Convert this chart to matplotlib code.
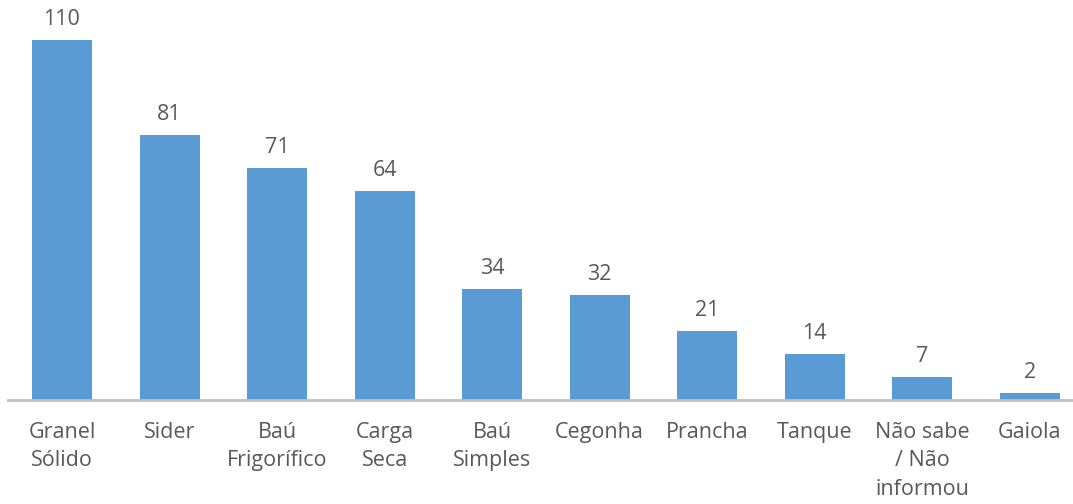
import matplotlib.pyplot as plt

categories = ["Granel\nSólido", "Sider", "Baú\nFrigorífico", "Carga\nSeca", "Baú\nSimples",
              "Cegonha", "Prancha", "Tanque", "Não sabe\n/ Não\ninformou", "Gaiola"]
values = [110, 81, 71, 64, 34, 32, 21, 14, 7, 2]

BAR_COLOR = "#5B9BD5"
TEXT_COLOR = "#595959"

plt.rcParams["font.family"] = ["Open Sans", "DejaVu Sans"]

fig = plt.figure(figsize=(10.73, 5.04), dpi=100)
ax = fig.add_axes([8.2 / 1073, 104 / 504, 1075.4 / 1073, 400 / 504])

x = range(len(values))
bars = ax.bar(x, values, width=0.558, color=BAR_COLOR)

for xi, v in zip(x, values):
    ax.annotate(str(v), (xi, v), xytext=(0, 7.3), textcoords="offset points",
                ha="center", va="bottom", fontsize=15.5, color=TEXT_COLOR)

ax.set_xlim(-0.5, len(values) - 0.5)
ax.set_ylim(0, 122.3)
ax.set_xticks(list(x))
ax.set_xticklabels(categories, fontsize=15.5, color=TEXT_COLOR, linespacing=1.45)
ax.tick_params(axis="x", length=0, pad=16)
ax.set_yticks([])
for side in ["top", "right", "left"]:
    ax.spines[side].set_visible(False)
ax.spines["bottom"].set_color("#BFBFBF")
ax.spines["bottom"].set_linewidth(2)

fig.savefig("out.png", dpi=100)
